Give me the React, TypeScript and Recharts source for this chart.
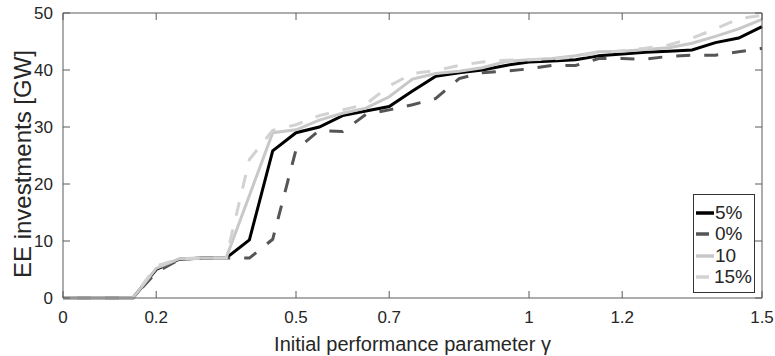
import { LineChart, Line, XAxis, YAxis, Legend } from 'recharts';

// initial performance parameter, step 0.05
const GAMMA = [
  0, 0.05, 0.1, 0.15, 0.2, 0.25, 0.3, 0.35, 0.4, 0.45, 0.5, 0.55, 0.6, 0.65, 0.7, 0.75,
  0.8, 0.85, 0.9, 0.95, 1, 1.05, 1.1, 1.15, 1.2, 1.25, 1.3, 1.35, 1.4, 1.45, 1.5,
];

// EE investments [GW]
const EE_5 = [
  0, 0, 0, 0, 5, 6.8, 7, 7, 10.2, 25.8, 29, 30, 32, 32.8, 33.6, 36.3,
  38.9, 39.5, 40, 40.8, 41.4, 41.6, 41.8, 42.5, 42.8, 43.1, 43.3, 43.5, 44.8, 45.6, 47.6,
];
const EE_0 = [
  0, 0, 0, 0, 4.5, 6.8, 7, 7, 7, 10.3, 26, 29.4, 29.2, 32.2, 33, 33.9,
  35, 38.5, 39.5, 39.8, 40.2, 40.8, 40.8, 42, 42, 41.9, 42.4, 42.6, 42.6, 43.2, 43.8,
];
const EE_10 = [
  0, 0, 0, 0, 5.2, 6.9, 7, 7, 18, 29, 29.5, 31.2, 32.4, 33.3, 35.3, 38.4,
  39.4, 39.8, 40.4, 41.5, 41.8, 42, 42.5, 43.2, 43.3, 43.6, 43.9, 44.7, 45.9, 47.2, 48.9,
];
const EE_15 = [
  0, 0, 0, 0, 5.6, 6.9, 7, 7, 24.3, 29.4, 30.4, 32, 33, 34, 37.2, 39.4,
  39.9, 40.8, 41.4, 41.7, 41.8, 41.9, 42.3, 43, 43.4, 43.8, 44.4, 45.6, 47.2, 49, 49.6,
];

const X_TICKS = [0, 0.2, 0.5, 0.7, 1, 1.2, 1.5];
const Y_TICKS = [0, 10, 20, 30, 40, 50];

const SERIES = [
  { key: 'p5', name: '5%', color: '#000000', dash: undefined },
  { key: 'p0', name: '0%', color: '#555555', dash: '14 14' },
  { key: 'p10', name: '10', color: '#c8c8c8', dash: undefined },
  { key: 'p15', name: '15%', color: '#d2d2d2', dash: '14 14' },
];

const rows = GAMMA.map((g, i) => ({
  g,
  p5: EE_5[i],
  p0: EE_0[i],
  p10: EE_10[i],
  p15: EE_15[i],
}));

const AXIS = '#5a5a5a';
const TEXT = '#262626';
const FONT = "'Liberation Sans', Arial, Helvetica, sans-serif";

const BottomTick = ({ x, y, payload }: any) => (
  <g>
    <line x1={x} x2={x} y1={y} y2={y - 7} stroke={AXIS} />
    <text x={x} y={y + 25} textAnchor="middle" fontSize={17} fill={TEXT} fontFamily={FONT}>
      {payload.value}
    </text>
  </g>
);

const TopTick = ({ x, y }: any) => <line x1={x} x2={x} y1={y} y2={y + 7} stroke={AXIS} />;

const LeftTick = ({ x, y, payload }: any) => (
  <g>
    <line x1={x} x2={x + 7} y1={y} y2={y} stroke={AXIS} />
    <text x={x - 10} y={y + 6} textAnchor="end" fontSize={17} fill={TEXT} fontFamily={FONT}>
      {payload.value}
    </text>
  </g>
);

const RightTick = ({ x, y }: any) => <line x1={x} x2={x - 7} y1={y} y2={y} stroke={AXIS} />;

const YTitle = ({ viewBox }: any) => {
  const cx = viewBox.x + 31;
  const cy = 164;
  return (
    <text
      x={cx}
      y={cy}
      transform={`rotate(-90 ${cx} ${cy})`}
      textAnchor="middle"
      fontSize={24}
      fill={TEXT}
      fontFamily={FONT}
    >
      EE investments [GW]
    </text>
  );
};

const LegendBox = () => (
  <div
    style={{
      border: '1px solid #333',
      background: '#fff',
      padding: '7px 2px 4px 2px',
      fontFamily: FONT,
      fontSize: 19,
      color: TEXT,
    }}
  >
    {SERIES.map((s) => (
      <div key={s.key} style={{ display: 'flex', alignItems: 'center', height: 21.5 }}>
        <svg width={18} height={6} style={{ marginRight: 1 }}>
          <line x1={0} x2={s.dash ? 13 : 18} y1={3} y2={3} stroke={s.color} strokeWidth={3.5} />
        </svg>
        <span>{s.name}</span>
      </div>
    ))}
  </div>
);

export default function App() {
  return (
    <div style={{ position: 'absolute', left: 0, top: 0, background: '#fff' }}>
      <LineChart width={775} height={356} data={rows} margin={{ top: 0, right: 0, bottom: 0, left: 0 }}>
        <XAxis
          dataKey="g"
          type="number"
          domain={[0, 1.5]}
          ticks={X_TICKS}
          height={58}
          tickSize={0}
          tickMargin={0}
          tickLine={false}
          axisLine={{ stroke: AXIS }}
          tick={<BottomTick />}
          interval={0}
          label={{
            value: 'Initial performance parameter γ',
            position: 'insideBottom',
            offset: 5,
            fontSize: 20,
            fill: TEXT,
            fontFamily: FONT,
          }}
        />
        <XAxis
          xAxisId="top"
          dataKey="g"
          orientation="top"
          type="number"
          domain={[0, 1.5]}
          ticks={X_TICKS}
          height={13}
          tickSize={0}
          tickMargin={0}
          tickLine={false}
          axisLine={{ stroke: AXIS }}
          tick={<TopTick />}
          interval={0}
          allowDataOverflow
        />
        <YAxis
          type="number"
          domain={[0, 50]}
          ticks={Y_TICKS}
          width={63}
          tickSize={0}
          tickMargin={0}
          tickLine={false}
          axisLine={{ stroke: AXIS }}
          tick={<LeftTick />}
          interval={0}
          label={(props: any) => <YTitle {...props} />}
        />
        <YAxis
          yAxisId="right"
          orientation="right"
          type="number"
          domain={[0, 50]}
          ticks={Y_TICKS}
          width={13}
          tickSize={0}
          tickMargin={0}
          tickLine={false}
          axisLine={{ stroke: AXIS }}
          tick={<RightTick />}
          interval={0}
          allowDataOverflow
        />
        {SERIES.map((s) => (
          <Line
            key={s.key}
            dataKey={s.key}
            name={s.name}
            type="linear"
            stroke={s.color}
            strokeWidth={3}
            strokeDasharray={s.dash}
            dot={false}
            activeDot={false}
            isAnimationActive={false}
          />
        ))}
        <Legend
          layout="vertical"
          align="center"
          verticalAlign="middle"
          wrapperStyle={{ left: 693, top: 194, width: 62 }}
          content={() => <LegendBox />}
        />
      </LineChart>
    </div>
  );
}
